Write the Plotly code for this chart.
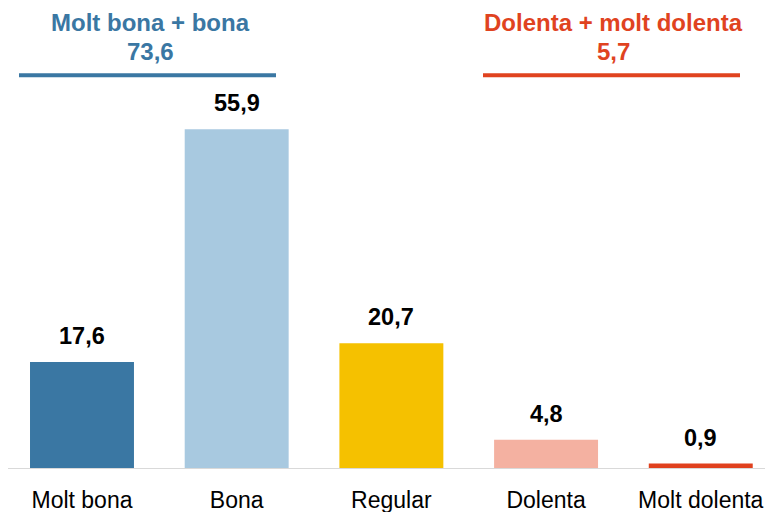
import plotly.graph_objects as go

categories = ["Molt bona", "Bona", "Regular", "Dolenta", "Molt dolenta"]
values = [17.6, 55.9, 20.7, 4.8, 0.9]
value_labels = ["17,6", "55,9", "20,7", "4,8", "0,9"]
colors = ["#3a77a3", "#a8c9e0", "#f5c100", "#f4b1a1", "#e0411e"]

group_titles = ["Molt bona + bona", "Dolenta + molt dolenta"]
group_totals = ["73,6", "5,7"]
group_colors = ["#3a77a3", "#e0431f"]

# page body has an 8px margin; figure is sized to fill the remaining window
OFF = 8
W, H = 773 - OFF, 512 - OFF
mt, mb = 0, 43
ph = H - mt - mb

def px(ref_x):
    return (ref_x - OFF) / W

def py(ref_y):
    return (H - mb - (ref_y - OFF)) / ph

fig = go.Figure()
fig.add_trace(go.Bar(
    x=categories, y=values, marker=dict(color=colors, line=dict(width=0)),
    width=0.672, hoverinfo="skip",
))

for c, v, t in zip(categories, values, value_labels):
    fig.add_annotation(x=c, y=v, text="<b>%s</b>" % t, showarrow=False,
                       yanchor="bottom", yshift=11,
                       font=dict(family="Liberation Sans, Arial", size=23.5, color="#000000"))

# group headers
centers_px = [150, 613]
lines_px = [(19, 276), (483, 740)]
for i in range(2):
    cx = px(centers_px[i])
    fig.add_annotation(xref="paper", yref="paper", x=cx, y=py(23), text="<b>%s</b>" % group_titles[i],
                       showarrow=False, xanchor="center", yanchor="middle",
                       font=dict(family="Liberation Sans, Arial", size=24, color=group_colors[i]))
    fig.add_annotation(xref="paper", yref="paper", x=cx, y=py(52), text="<b>%s</b>" % group_totals[i],
                       showarrow=False, xanchor="center", yanchor="middle",
                       font=dict(family="Liberation Sans, Arial", size=24, color=group_colors[i]))
    fig.add_shape(type="line", xref="paper", yref="paper",
                  x0=px(lines_px[i][0]), x1=px(lines_px[i][1]), y0=py(75.3), y1=py(75.3),
                  line=dict(color=group_colors[i], width=4))

# baseline axis line
fig.add_shape(type="line", xref="paper", yref="y", x0=0, x1=1, y0=0, y1=0,
              line=dict(color="#d9d9d9", width=2), layer="above")

fig.update_layout(
    width=W, height=H,
    margin=dict(l=0, r=0, t=mt, b=mb),
    paper_bgcolor="white", plot_bgcolor="white",
    showlegend=False,
    xaxis=dict(range=[-0.4783, 4.467], showline=False, showgrid=False, zeroline=False,
               ticks="", tickfont=dict(family="Liberation Sans, Arial", size=23, color="#000000"),
               ticklabelstandoff=15, fixedrange=True, automargin=False),
    yaxis=dict(range=[0, ph / 6.08], showline=False, showgrid=False, zeroline=False,
               showticklabels=False, ticks="", fixedrange=True),
)

fig.write_html("out.html")
